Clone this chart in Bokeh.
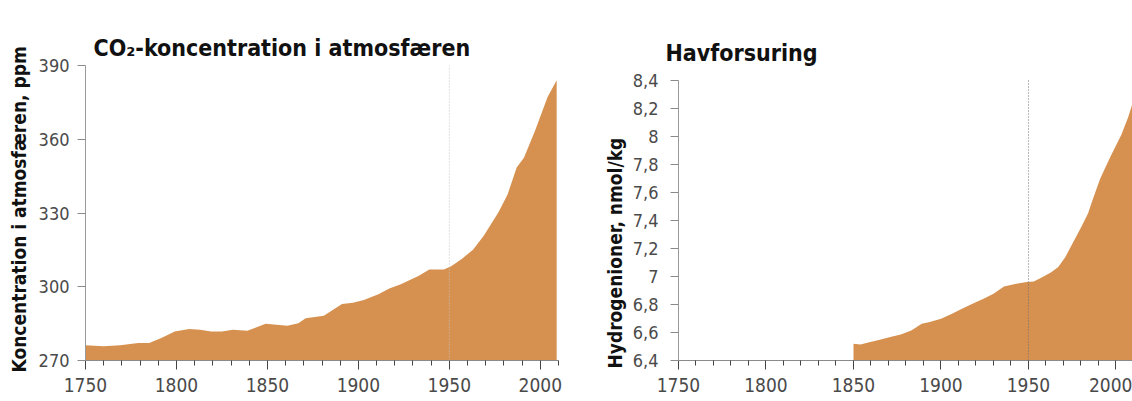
from bokeh.plotting import figure
from bokeh.layouts import row
from bokeh.models import FixedTicker, Span, Title, Range1d, CustomJSTickFormatter
from bokeh.embed import file_html
from bokeh.resources import INLINE

# ---- data ----
co2_years = [1750, 1760, 1769, 1779, 1785, 1792, 1799, 1807, 1813, 1819, 1825, 1831,
             1839, 1849, 1855, 1861, 1867, 1871, 1881, 1891, 1897, 1903, 1911, 1917,
             1923, 1933, 1939, 1947, 1951, 1957, 1963, 1969, 1977, 1982, 1987, 1991,
             1997, 2004, 2009]
co2_ppm = [276.2, 275.8, 276.2, 277.1, 277.1, 279.3, 281.8, 282.8, 282.5, 281.8, 281.8, 282.5,
           282.1, 284.9, 284.5, 284.1, 285.2, 287.2, 288.2, 293.0, 293.5, 294.6, 296.9, 299.3,
           300.9, 304.4, 307.0, 307.0, 308.3, 311.4, 315.1, 320.8, 330.3, 337.5, 348.5, 352.5,
           363.3, 377.2, 384.0]

h_years = [1850, 1854, 1859, 1865, 1871, 1877, 1883, 1889, 1893, 1900, 1906, 1912, 1918,
           1924, 1930, 1936, 1943, 1949, 1953, 1957, 1963, 1967, 1971, 1975, 1980, 1984,
           1987, 1991, 1997, 2003, 2007, 2010]
h_nmol = [6.519, 6.514, 6.531, 6.548, 6.567, 6.586, 6.614, 6.662, 6.674, 6.698, 6.733, 6.769,
          6.805, 6.840, 6.876, 6.929, 6.948, 6.960, 6.964, 6.990, 7.031, 7.067, 7.138, 7.233,
          7.35, 7.45, 7.56, 7.70, 7.86, 8.01, 8.14, 8.26]

x_ticks = [1750, 1800, 1850, 1900, 1950, 2000]
x_minor = [1760, 1770, 1780, 1790, 1810, 1820, 1830, 1840, 1860, 1870, 1880, 1890,
           1910, 1920, 1930, 1940, 1960, 1970, 1980, 1990, 2010]
co2_ticks = [270, 300, 330, 360, 390]
h_ticks = [6.4, 6.6, 6.8, 7.0, 7.2, 7.4, 7.6, 7.8, 8.0, 8.2, 8.4]
ref_year = 1950

titles = ["CO₂-koncentration i atmosfæren", "Havforsuring"]
ylabels = ["Koncentration i atmosfæren, ppm", "Hydrogenioner, nmol/kg"]

ORANGE = "#D69150"
FONT = "'Liberation Sans Narrow', 'Arial Narrow', 'DejaVu Sans Condensed', sans-serif"


def style(p, yticks, ylabel, title_offset, title_standoff, y_standoff, lab_standoff, lab_offset):
    p.grid.visible = False
    p.outline_line_color = None
    p.background_fill_color = "white"
    p.border_fill_color = "white"

    p.title.text_font = FONT
    p.title.text_font_size = "23px"
    p.title.text_font_style = "bold"
    p.title.text_color = "#111111"
    p.title.align = "left"
    p.title.offset = title_offset
    p.title.standoff = title_standoff

    xa = p.xaxis[0]
    xa.ticker = FixedTicker(ticks=x_ticks, minor_ticks=x_minor)
    xa.axis_line_color = "#8a8a8a"
    xa.major_tick_line_color = "#444444"
    xa.minor_tick_line_color = "#444444"
    xa.major_tick_in = 0
    xa.major_tick_out = 9
    xa.minor_tick_in = 0
    xa.minor_tick_out = 5
    xa.major_label_text_font = FONT
    xa.major_label_text_font_size = "19px"
    xa.major_label_text_color = "#4a4a4a"
    xa.major_label_standoff = 8

    ya = p.yaxis[0]
    ya.ticker = FixedTicker(ticks=yticks)
    ya.bounds = (yticks[0], yticks[-1])
    ya.axis_line_color = "#9a9a9a"
    ya.major_tick_line_color = "#8a8a8a"
    ya.major_tick_in = 0
    ya.major_tick_out = 8
    ya.minor_tick_in = 0
    ya.minor_tick_out = 0
    ya.major_label_text_font = FONT
    ya.major_label_text_font_size = "18px"
    ya.major_label_text_color = "#4a4a4a"
    ya.major_label_standoff = y_standoff

    p.add_layout(Title(text=ylabel, align="left", offset=lab_offset, text_font=FONT,
                       text_font_size="19px", text_font_style="bold", text_color="#111111",
                       standoff=lab_standoff), "left")


# ---- left: CO2 ----
p1 = figure(width=590, height=401, x_range=Range1d(1750, 2010), y_range=Range1d(270, 390),
            output_backend="svg", toolbar_location=None, title=titles[0],
            min_border_left=85, min_border_right=32, min_border_top=65, min_border_bottom=41)
p1.varea(x=co2_years, y1=270, y2=co2_ppm, fill_color=ORANGE)
style(p1, co2_ticks, ylabels[0], 8, 9, 8, 11, -12)
p1.add_layout(Span(location=ref_year, dimension="height", line_color="#c4c4c4",
                   line_width=1, line_dash="1 2"))

# ---- right: ocean acidification (frame shares top with left; axis bounded at 8.4) ----
p2 = figure(width=542, height=401, x_range=Range1d(1750, 2009.43),
            y_range=Range1d(6.4, 6.4 + 295 / 140.0),
            output_backend="svg", toolbar_location=None, title=titles[1],
            min_border_left=88, min_border_right=0, min_border_top=65, min_border_bottom=41)
p2.varea(x=h_years, y1=6.4, y2=h_nmol, fill_color=ORANGE)
style(p2, h_ticks, ylabels[1], -13, 0, 12, 8, -8)
p2.yaxis[0].formatter = CustomJSTickFormatter(
    code="var s = tick.toFixed(1).replace('.', ','); return s.endsWith(',0') ? s.slice(0, -2) : s;")
p2.segment(x0=[ref_year], y0=[h_ticks[0]], x1=[ref_year], y1=[h_ticks[-1]],
           line_color="#707070", line_width=1, line_dash="1 2")

layout = row(p1, p2)
open("out.html", "w").write(file_html(layout, INLINE))
